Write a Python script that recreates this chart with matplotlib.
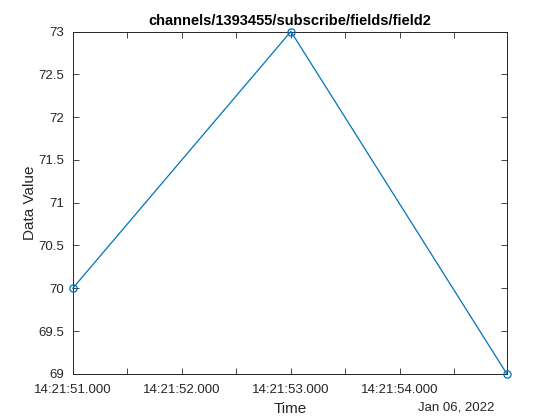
import matplotlib
matplotlib.use("Agg")
import matplotlib.pyplot as plt
import matplotlib.dates as mdates
import numpy as np
from datetime import datetime

times = ["2022-01-06 14:21:51.000", "2022-01-06 14:21:53.000", "2022-01-06 14:21:54.980"]
values = [70, 73, 69]
title = "channels/1393455/subscribe/fields/field2"
date_label = "Jan 06, 2022"

plt.rcParams['font.family'] = ['Liberation Sans', 'DejaVu Sans']
t = [datetime.strptime(s, "%Y-%m-%d %H:%M:%S.%f") for s in times]

fig = plt.figure(figsize=(5.6, 4.2), dpi=100)
ax = fig.add_axes([0.13, 0.11, 0.775, 0.815])
color = (0, 0.447, 0.741)
ax.plot(t, values, '-o', color=color, markerfacecolor='none', markersize=5.2, markeredgewidth=0.9,
        linewidth=0.9, clip_on=False, zorder=3)
ax.set_xlim(t[0], t[-1])
ax.set_ylim(69, 73)
yt = np.arange(69, 73.01, 0.5)
ax.set_yticks(yt)
ax.set_yticklabels([f"{v:g}" for v in yt])

ax.xaxis.set_major_locator(mdates.SecondLocator())
ax.xaxis.set_minor_locator(mdates.MicrosecondLocator(interval=500000))
ax.xaxis.set_major_formatter(mdates.DateFormatter("%H:%M:%S.000"))
ax.tick_params(axis='both', which='both', direction='in', top=True, right=True, labelsize=9.5, colors='#262626', width=0.6)
ax.tick_params(which='major', length=4)
ax.tick_params(which='minor', length=4)
ax.tick_params(axis='x', pad=7)
ax.tick_params(axis='y', pad=6)
for s in ax.spines.values():
    s.set_linewidth(0.7)
    s.set_color('#262626')
ax.set_title(title, fontsize=10.5, fontweight='bold', pad=5)
ax.set_xlabel("Time", fontsize=11, color='#262626', labelpad=4.5)
ax.set_ylabel("Data Value", fontsize=11, color='#262626', labelpad=1)
ax.text(494 / 560, 1 - 407.5 / 420, date_label, transform=fig.transFigure, ha='right', va='center', fontsize=9.5, color='#262626')
fig.savefig("out.png", dpi=100)
